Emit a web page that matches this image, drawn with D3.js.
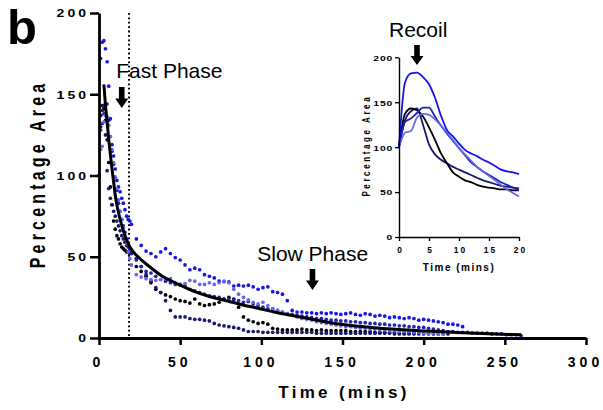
<!DOCTYPE html>
<html>
<head>
<title>Percentage Area vs Time</title>
<script src="https://d3js.org/d3.v7.min.js"></script>
<style>
body, html {
  margin: 0;
  padding: 0;
  background: #fff;
}
svg {
  display: block;
  font-family: "Liberation Sans", Arial, sans-serif;
}
</style>
</head>
<body>

<svg id="chart" width="603" height="410"></svg>

<script>

// sampling times (minutes)
const earlyTimes = [0,1,2,3,4,5,6,7,8,9,10,11,12,13,14,15,16,17,18,19,20];
const lateTimes = [23,26,29,32,35,38,41,44,47,50,53,56,59,62,65,68,71,74,77,80,
  83,86,89,92,95,98,101,104,107,110,113,116,119,122,125,128,131,134,137,140,
  143,146,149,152,155,158,161,164,167,170,173,176,179,182,185,188,191,194,197,200,
  203,206,209,212,215,218,221,224,227,230,233,236,239,242,245,248,251,254,257,260];

// percentage area, first 20 min (also shown in the inset)
const early1 = [100,172,182,183,178,170,155,135,119,112,104,97,93,90,86,83,79,75,73,72,70];
const early2 = [100,128,132,138,144,144,134,124,115,107,99,91,83,78,73,69,65,61,58,55,52];
const early3 = [100,137,143,141,134,122,108,93,82,72,67,63,61,58,56,55,54,53,53,52,52];
const early4 = [100,130,140,143,125,103,92,86,82,78,75,72,69,66,63,61,59,57,56,55,54];
const early5 = [100,116,118,133,137,136,131,124,116,108,99,92,85,78,73,68,63,58,53,49,45];

// percentage area after 20 min (each recording stops at its own time)
const late1 = [61,57,53.5,52,50,53,55,52,49.5,48, 45,42,43,42,39,38,37,35,34.7,34.5,
  32,32.5,32,32.5,31.5,30,31,31.5,28.5,28, 27,23,17,16,16,15.5,15.5,15,15.5,15,
  15.5,15,14.5,15,15.5,14.5,14,15,14.5,13.5, 14,13.5,12.5,13,12.5,12,12.5,12,11,11.5,
  11,10.5,10,9.5,8.5,8.5,8,7];
const late2 = [48,44,41,40,38,36,35,34,33,33, 32,30,29,28,27,26,25.5,25,24,24,
  23.5,23,22,22.5,21,20,19,18,18,17, 16,15,14.5,14,13.5,13,12.5,12,12,11.5,
  11,11,10.5,10.5,10,10,9.5,9.5,9,9, 8.5,8.5,8,8,7.5,7.5,7,7,6.5,6.5,
  6,5.5,5,4.5,4,4,3.5,3.5,3.5,3, 3,3,3,2.5,2.5,2.5,2,2,2,1.5];
const late3 = [44,41,38,34,30,28,26.5,25.5,24,23, 22.5,21.5,24,21,20,20.5,21,22,24,25,
  24,19,13,11,10,9,9.5,8.5,6,5.5, 5,5,5,5,5.5,5,5,4.5,5,4.5,
  4.5,4.5,4.5,4.5,4,4,4,4,4,3.5, 3.5,3.5,3.5,3.5,3,3,3,3];
const late4 = [49,44,39,35,31,28,23,17,13,13, 13,12,11.5,11.5,11,10.5,9,8,7.5,7,
  6.5,6,5,4,4,4,3.5,3.5,3.5,3.5, 3.5,3.5,3.5,3.5,3.5,3.5,3.5,3,3,3,
  3,3,3,3,3,3,3,3,3,3, 3,3,3,2.5,2.5,2.5,2.5,2.5,2.5,2.5, 2.5,2.5,2.5,2.5,2.5];
const late5 = [39,37.5,36.5,36,35.5,36,36.5,36.5,34,32.5, 33.5,35.5,35,33,33,34,33,34,35,34,
  30,27,25,23.5,22,21,22,20,18,17, 16,15,14,13,12,11.5,11,10,9.5,9,
  8.5,8,7.5,7,7,6.5,6,6,5.5,5.5, 5,5,4.5,4.5,4,4,4,3.5,3.5,3,
  3,3,2.5,2.5];

// two-phase decay fit
const fitTimes = [3,4,5,6,7,8,9,10,11,13,16,19,24,31,39,49,59,68,78,88,98,108,118,130,148,170,195,220,240,260];
const fitValues = [156,143,133,122,113,104,96,88,82,73,63,56,50,44,38,33,28.5,25.5,23,20.5,18.3,16,14,11.8,8.6,6.3,4.6,3.4,2.6,2];

const seriesColors = ["#1414ec", "#2222b4", "#000000", "#18186e", "#6666ee"];
const mainXTicks = [0, 50, 100, 150, 200, 250, 300];
const mainYTicks = [0, 50, 100, 150, 200];
const insetXTicks = [0, 5, 10, 15, 20];
const insetYTicks = [0, 50, 100, 150, 200];
const fastPhaseTime = 18.5;

function buildSeries() {
  const early = [early1, early2, early3, early4, early5];
  const late = [late1, late2, late3, late4, late5];
  return early.map(function(e, i) {
    let pts = e.map((v, j) => ({ t: earlyTimes[j], v: v }));
    late[i].forEach((v, j) => pts.push({ t: lateTimes[j], v: v }));
    return { color: seriesColors[i], points: pts, early: pts.slice(0, earlyTimes.length) };
  });
}

function arrow(g, cx, top, bottom) {
  let h = bottom - top;
  let shaft = h * 0.55;
  g.append("path")
    .attr("d", "M" + (cx - 2.8) + "," + top + "H" + (cx + 2.8) + "V" + (top + shaft) +
      "H" + (cx + 6.5) + "L" + cx + "," + bottom + "L" + (cx - 6.5) + "," + (top + shaft) +
      "H" + (cx - 2.8) + "Z")
    .attr("fill", "#000");
}

function drawMain(svg, series) {
  let x = d3.scaleLinear().domain([0, 300]).range([99, 586]);
  let y = d3.scaleLinear().domain([0, 200]).range([338, 13]);

  // dotted marker line
  svg.append("line")
    .attr("x1", x(fastPhaseTime)).attr("x2", x(fastPhaseTime))
    .attr("y1", y(200)).attr("y2", y(0))
    .attr("stroke", "#000")
    .attr("stroke-width", 2)
    .attr("stroke-dasharray", "1.8,2.6");

  let order = [2, 3, 1, 0, 4];
  order.forEach(function(i) {
    svg.append("g").selectAll("circle")
      .data(series[i].points)
      .join("circle")
      .attr("cx", d => x(d.t))
      .attr("cy", d => y(d.v))
      .attr("r", 1.85)
      .attr("fill", series[i].color);
  });

  let fit = fitTimes.map((t, i) => ({ t: t, v: fitValues[i] }));
  svg.append("path")
    .datum(fit)
    .attr("fill", "none")
    .attr("stroke", "#000")
    .attr("stroke-width", 3)
    .attr("d", d3.line().x(d => x(d.t)).y(d => y(d.v)).curve(d3.curveMonotoneX));

  let xAxis = svg.append("g")
    .attr("transform", "translate(0," + y(0) + ")")
    .call(d3.axisBottom(x).tickValues(mainXTicks).tickSize(7).tickSizeOuter(0).tickPadding(12));
  xAxis.select(".domain").attr("stroke-width", 2.8);
  xAxis.selectAll(".tick line").attr("stroke-width", 2.5);
  xAxis.selectAll("text")
    .attr("font-size", 14).attr("font-weight", "bold")
    .attr("letter-spacing", 4).attr("dx", -1)
    .attr("font-family", "Liberation Sans, Arial, sans-serif");

  let yAxis = svg.append("g")
    .attr("transform", "translate(" + x(0) + ",0)")
    .call(d3.axisLeft(y).tickValues(mainYTicks).tickSize(9).tickSizeOuter(0));
  yAxis.select(".domain").attr("stroke-width", 2.8);
  yAxis.selectAll(".tick line").attr("stroke-width", 2.5);
  yAxis.selectAll("text")
    .attr("x", 0).attr("dy", "0.36em")
    .attr("transform", "translate(-10,0) scale(1.3,1)")
    .attr("font-size", 10.8).attr("font-weight", "bold")
    .attr("letter-spacing", 2.3)
    .attr("font-family", "Liberation Sans, Arial, sans-serif");

  svg.append("text")
    .attr("transform", "translate(45,176) rotate(-90) scale(1,1.35)")
    .attr("text-anchor", "middle")
    .attr("font-size", 16).attr("font-weight", "bold")
    .attr("letter-spacing", 4.2).attr("dx", 2)
    .text("Percentage Area");

  svg.append("text")
    .attr("x", 344).attr("y", 398)
    .attr("text-anchor", "middle")
    .attr("font-size", 17).attr("font-weight", "bold")
    .attr("letter-spacing", 3.3)
    .text("Time (mins)");

  svg.append("text")
    .attr("x", x(10.6)).attr("y", y(160))
    .attr("font-size", 21)
    .text("Fast Phase");
  arrow(svg, x(14), y(154.5), y(141.5));

  svg.append("text")
    .attr("x", x(97.5)).attr("y", y(47.5))
    .attr("font-size", 21)
    .text("Slow Phase");
  arrow(svg, x(131.5), y(42.5), y(29.5));
}

function drawInset(svg, series) {
  let x = d3.scaleLinear().domain([0, 20]).range([399, 519]);
  let y = d3.scaleLinear().domain([0, 200]).range([237, 57.3]);

  let line = d3.line().x(d => x(d.t)).y(d => y(d.v)).curve(d3.curveMonotoneX);
  [3, 2, 1, 4, 0].forEach(function(i) {
    svg.append("path")
      .datum(series[i].early)
      .attr("fill", "none")
      .attr("stroke", series[i].color)
      .attr("stroke-width", 1.8)
      .attr("d", line);
  });

  let xAxis = svg.append("g")
    .attr("transform", "translate(0," + y(0) + ")")
    .call(d3.axisBottom(x).tickValues(insetXTicks).tickSize(4).tickSizeOuter(0).tickPadding(6));
  xAxis.select(".domain").attr("stroke-width", 1.4);
  xAxis.selectAll(".tick line").attr("stroke-width", 1.3);
  xAxis.selectAll("text")
    .attr("font-size", 8.4).attr("font-weight", "bold")
    .attr("letter-spacing", 2).attr("dx", 1)
    .attr("font-family", "Liberation Sans, Arial, sans-serif");

  let yAxis = svg.append("g")
    .attr("transform", "translate(" + x(0) + ",0)")
    .call(d3.axisLeft(y).tickValues(insetYTicks).tickSize(4).tickSizeOuter(0));
  yAxis.select(".domain").attr("stroke-width", 1.4);
  yAxis.selectAll(".tick line").attr("stroke-width", 1.3);
  yAxis.selectAll("text")
    .attr("x", 0).attr("dy", "0.36em")
    .attr("transform", "translate(-6,0) scale(1.3,1)")
    .attr("font-size", 8).attr("font-weight", "bold")
    .attr("letter-spacing", 0.6)
    .attr("font-family", "Liberation Sans, Arial, sans-serif");

  svg.append("text")
    .attr("transform", "translate(369.5,147) rotate(-90) scale(1,1.3)")
    .attr("text-anchor", "middle")
    .attr("font-size", 8).attr("font-weight", "bold")
    .attr("letter-spacing", 2.6).attr("dx", 1.3)
    .text("Percentage Area");

  svg.append("text")
    .attr("x", 459).attr("y", 270.5)
    .attr("text-anchor", "middle")
    .attr("font-size", 10).attr("font-weight", "bold")
    .attr("letter-spacing", 1.5)
    .text("Time (mins)");

  svg.append("text")
    .attr("x", x(3.2)).attr("y", 37)
    .attr("text-anchor", "middle")
    .attr("font-size", 21)
    .text("Recoil");
  arrow(svg, x(3), 45, 65);
}

function main() {
  const svg = d3.select("#chart");
  const series = buildSeries();

  svg.append("text")
    .attr("x", 7).attr("y", 44)
    .attr("font-size", 49).attr("font-weight", "bold")
    .text("b");

  drawMain(svg, series);
  drawInset(svg, series);
}

main();

</script>
</body>
</html>
